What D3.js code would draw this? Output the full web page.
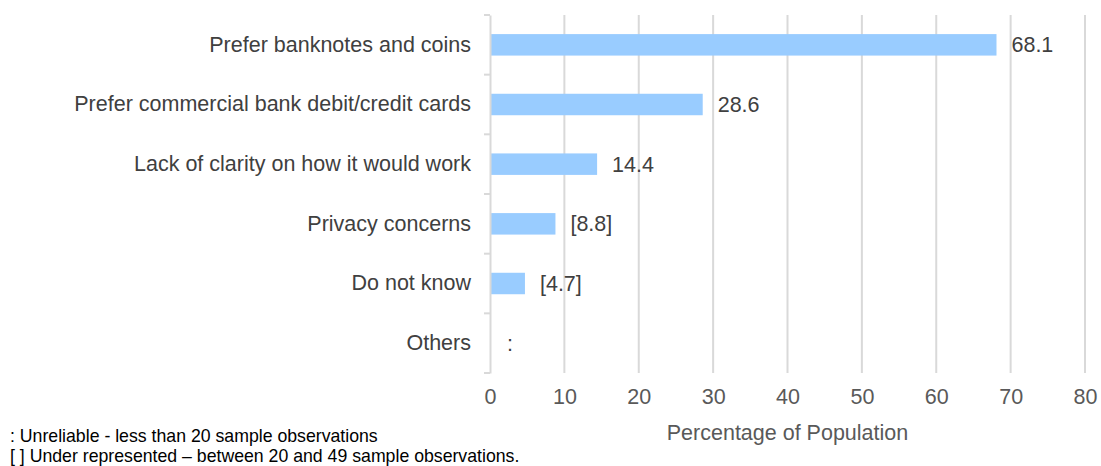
<!DOCTYPE html>
<html>
<head>
<meta charset="utf-8">
<script src="https://cdn.jsdelivr.net/npm/d3@7"></script>
<style>
  body { margin: 0; background: #fff; }
  svg { display: block; font-family: "Liberation Sans", Arial, sans-serif; }
</style>
</head>
<body>
<svg id="chart" width="1101" height="466"></svg>
<script>
// Reasons for not using a digital currency (% of population)
const categories = [
  "Prefer banknotes and coins",
  "Prefer commercial bank debit/credit cards",
  "Lack of clarity on how it would work",
  "Privacy concerns",
  "Do not know",
  "Others"
];
const values = [68.1, 28.6, 14.4, 8.8, 4.7, null];
const valueLabels = ["68.1", "28.6", "14.4", "[8.8]", "[4.7]", ":"];
const xTicks = [0, 10, 20, 30, 40, 50, 60, 70, 80];
const xTitle = "Percentage of Population";
const notes = [
  ": Unreliable - less than 20 sample observations",
  "[ ] Under represented \u2013 between 20 and 49 sample observations."
];

const svg = d3.select("#chart");
const margin = { left: 490, right: 16, top: 15, bottom: 93 };
const W = 1101, H = 466;
const FS = 21.5;

const x = d3.scaleLinear().domain([0, 80]).range([margin.left, W - margin.right]);
const y = d3.scaleBand().domain(categories).range([margin.top, H - margin.bottom]).paddingInner(0.64).paddingOuter(0.32);

// vertical gridlines
svg.append("g")
  .selectAll("line")
  .data(xTicks.slice(1))
  .join("line")
  .attr("x1", d => x(d)).attr("x2", d => x(d))
  .attr("y1", margin.top).attr("y2", H - margin.bottom)
  .attr("stroke", "#d9d9d9").attr("stroke-width", 2);

const rows = categories.map((c, i) => ({ c, v: values[i], l: valueLabels[i] }));

// bars
svg.append("g")
  .selectAll("rect")
  .data(rows)
  .join("rect")
  .attr("x", x(0))
  .attr("y", d => y(d.c))
  .attr("width", d => d.v == null ? 0 : x(d.v) - x(0))
  .attr("height", y.bandwidth())
  .attr("fill", "#99ccff");

// value labels
svg.append("g")
  .selectAll("text")
  .data(rows)
  .join("text")
  .attr("x", d => x(d.v == null ? 0 : d.v) + (d.v == null ? 17 : 15))
  .attr("y", d => y(d.c) + y.bandwidth() / 2)
  .attr("dy", "0.35em")
  .attr("font-size", FS)
  .attr("fill", "#404040")
  .text(d => d.l);

// category axis
const yAxis = d3.axisLeft(y)
  .tickSizeInner(0).tickSizeOuter(0).tickPadding(19);
const gy = svg.append("g").attr("transform", `translate(${x(0)},0)`).call(yAxis);
gy.select(".domain").attr("stroke", "#d9d9d9").attr("stroke-width", 2);
gy.selectAll("text").attr("font-size", FS).attr("fill", "#404040")
  .attr("font-family", "Liberation Sans, Arial, sans-serif");

// category boundary ticks
const bounds = d3.range(categories.length + 1).map(i => margin.top + i * (H - margin.bottom - margin.top) / categories.length);
svg.append("g").selectAll("line").data(bounds).join("line")
  .attr("x1", x(0) - 6).attr("x2", x(0))
  .attr("y1", d => d).attr("y2", d => d)
  .attr("stroke", "#d9d9d9").attr("stroke-width", 2);

// value axis
const xAxis = d3.axisBottom(x).tickValues(xTicks).tickSize(0).tickPadding(16);
const gx = svg.append("g").attr("transform", `translate(0,${H - margin.bottom})`).call(xAxis);
gx.select(".domain").remove();
gx.selectAll("text").attr("font-size", FS).attr("fill", "#595959")
  .attr("font-family", "Liberation Sans, Arial, sans-serif");

svg.append("text")
  .attr("x", x(40)).attr("y", 440)
  .attr("text-anchor", "middle")
  .attr("font-size", FS).attr("fill", "#595959")
  .text(xTitle);

// notes
svg.append("g").selectAll("text").data(notes).join("text")
  .attr("x", 10).attr("y", (d, i) => 442 + i * 20)
  .attr("font-size", 17.7).attr("fill", "#000")
  .text(d => d);
</script>
</body>
</html>
